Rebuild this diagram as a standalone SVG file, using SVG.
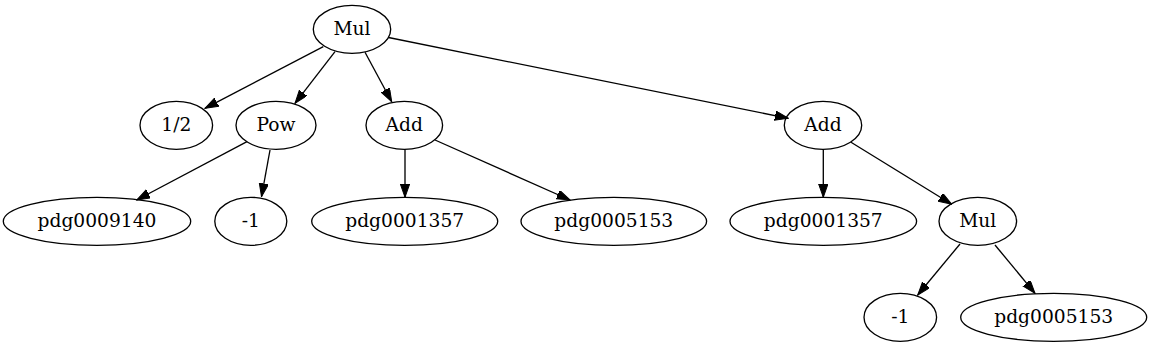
<svg xmlns="http://www.w3.org/2000/svg" width="1152" height="347" viewBox="0 0 1152 347">
<defs>
<style>
.n ellipse{fill:none;stroke:#000;stroke-width:1.33}
.n text{font-family:"DejaVu Serif","Liberation Serif",serif;font-size:18.67px;text-anchor:middle;fill:#000}
.e line{stroke:#000;stroke-width:1.33;marker-end:url(#ah)}
</style>
<marker id="ah" markerUnits="userSpaceOnUse" markerWidth="14" markerHeight="10" refX="13.3" refY="4.67" orient="auto">
<path d="M0,0 L13.3,4.67 L0,9.33 z" fill="#000" stroke="#000" stroke-width="1"/>
</marker>
</defs>
<rect width="1152" height="347" fill="#fff"/>
<g id="edges" class="e">
<line x1="323.3" y1="46.7" x2="205" y2="108.3"/>
<line x1="335" y1="51.7" x2="295" y2="103.3"/>
<line x1="365" y1="52.3" x2="391.7" y2="101.7"/>
<line x1="388.5" y1="37.5" x2="788.3" y2="118.3"/>
<line x1="247" y1="141.7" x2="136.7" y2="200"/>
<line x1="270" y1="150" x2="261.5" y2="196.7"/>
<line x1="405" y1="149.3" x2="405" y2="197.3"/>
<line x1="435" y1="140" x2="570" y2="200"/>
<line x1="823.3" y1="149" x2="823.3" y2="197.3"/>
<line x1="851" y1="142.3" x2="951.7" y2="204.3"/>
<line x1="960" y1="244" x2="917.7" y2="295"/>
<line x1="995" y1="245" x2="1035" y2="293.3"/>
</g>
<g id="n_mul" class="n"><ellipse cx="352" cy="29.3" rx="38.7" ry="24"/><text x="352" y="34.5">Mul</text></g>
<g id="n_half" class="n"><ellipse cx="176.3" cy="125.3" rx="36.3" ry="24"/><text x="176.3" y="130.5">1/2</text></g>
<g id="n_pow" class="n"><ellipse cx="276" cy="125.3" rx="40" ry="24"/><text x="276" y="130.5">Pow</text></g>
<g id="n_add1" class="n"><ellipse cx="404.3" cy="125.3" rx="38.3" ry="24"/><text x="404.3" y="130.5">Add</text></g>
<g id="n_add2" class="n"><ellipse cx="823" cy="125.3" rx="38.7" ry="24"/><text x="823" y="130.5">Add</text></g>
<g id="n_p9140" class="n"><ellipse cx="97" cy="221.3" rx="93.7" ry="24"/><text x="97" y="226.5">pdg0009140</text></g>
<g id="n_m1a" class="n"><ellipse cx="250.8" cy="221.3" rx="36" ry="24"/><text x="250.8" y="226.5">-1</text></g>
<g id="n_p1357a" class="n"><ellipse cx="404.7" cy="221.3" rx="93" ry="24"/><text x="404.7" y="226.5">pdg0001357</text></g>
<g id="n_p5153a" class="n"><ellipse cx="613.8" cy="221.3" rx="92.8" ry="24"/><text x="613.8" y="226.5">pdg0005153</text></g>
<g id="n_p1357b" class="n"><ellipse cx="823.3" cy="221.3" rx="93.3" ry="24"/><text x="823.3" y="226.5">pdg0001357</text></g>
<g id="n_mul2" class="n"><ellipse cx="977.8" cy="221.3" rx="38.8" ry="24"/><text x="977.8" y="226.5">Mul</text></g>
<g id="n_m1b" class="n"><ellipse cx="900.3" cy="317.3" rx="36.3" ry="24"/><text x="900.3" y="322.5">-1</text></g>
<g id="n_p5153b" class="n"><ellipse cx="1053.7" cy="317.3" rx="93" ry="24"/><text x="1053.7" y="322.5">pdg0005153</text></g>
</svg>
